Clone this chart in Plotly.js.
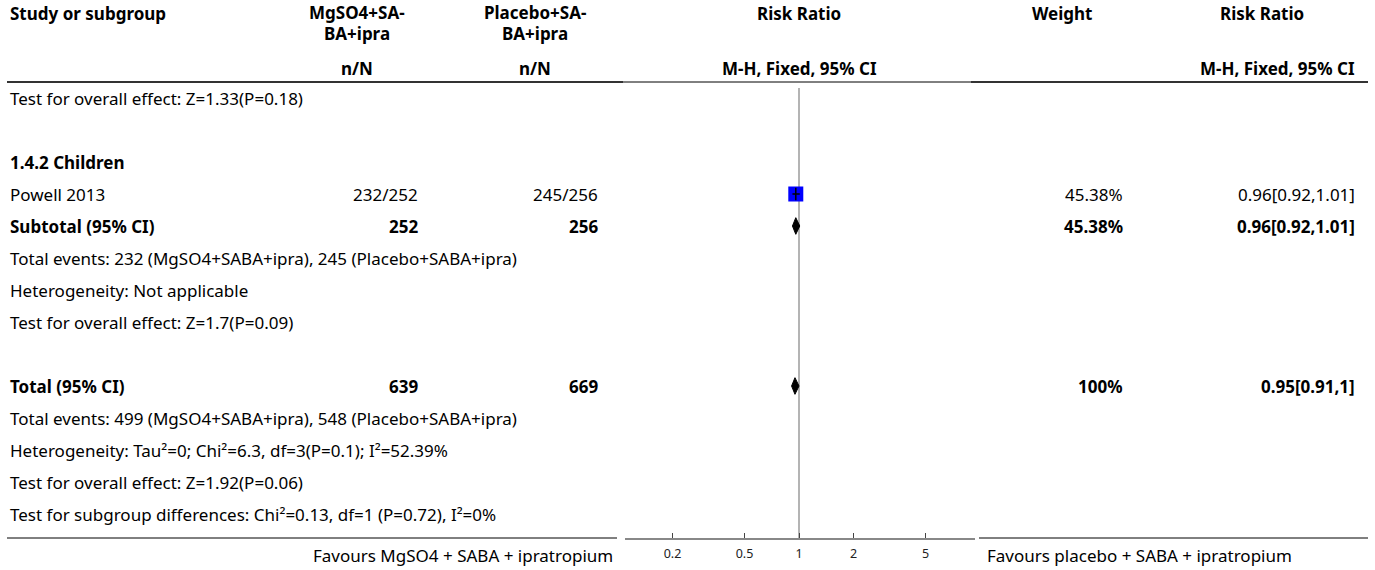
<!DOCTYPE html>
<html>
<head>
<meta charset="utf-8">
<script src="https://cdn.plot.ly/plotly-3.0.1.min.js"></script>
<style>
html,body{margin:0;padding:0;background:#fff;}
#chart{width:1375px;height:570px;}
</style>
</head>
<body>
<div id="chart"></div>
<script>
// ---------- data ----------
const studyNames = ["Powell 2013"];
const mgEvents = [232];
const mgTotals = [252];
const plEvents = [245];
const plTotals = [256];
const studyWeights = ["45.38%"];
const studyRR = [0.96];
const studyLo = [0.92];
const studyHi = [1.01];

const summaryLabels = ["Subtotal (95% CI)", "Total (95% CI)"];
const summaryMgN = [252, 639];
const summaryPlN = [256, 669];
const summaryWeights = ["45.38%", "100%"];
const summaryRR = [0.96, 0.95];
const summaryLo = [0.92, 0.91];
const summaryHi = [1.01, 1];
const summaryCIText = ["0.96[0.92,1.01]", "0.95[0.91,1]"];
const studyCIText = ["0.96[0.92,1.01]"];

const statLinesTop = ["Test for overall effect: Z=1.33(P=0.18)"];
const subgroupTitle = "1.4.2 Children";
const statLinesSub = [
  "Total events: 232 (MgSO4+SABA+ipra), 245 (Placebo+SABA+ipra)",
  "Heterogeneity: Not applicable",
  "Test for overall effect: Z=1.7(P=0.09)"
];
const statLinesTotal = [
  "Total events: 499 (MgSO4+SABA+ipra), 548 (Placebo+SABA+ipra)",
  "Heterogeneity: Tau\u00b2=0; Chi\u00b2=6.3, df=3(P=0.1); I\u00b2=52.39%",
  "Test for overall effect: Z=1.92(P=0.06)",
  "Test for subgroup differences: Chi\u00b2=0.13, df=1 (P=0.72), I\u00b2=0%"
];
const tickValues = [0.2, 0.5, 1, 2, 5];
const tickLabels = ["0.2", "0.5", "1", "2", "5"];
const favoursLeft = "Favours MgSO4 + SABA + ipratropium";
const favoursRight = "Favours placebo + SABA + ipratropium";

// ---------- layout helpers ----------
const W = 1375, H = 570;
const FONT = "'Noto Sans', 'Open Sans', sans-serif";
const FS = 17;
const px = v => v / W;
const COL = {left: 8, mgRight: 420, mgCenter: 357, plRight: 600, plCenter: 535,
             rrCenter: 799, wRight: 1125, wCenter: 1062, ciRight: 1357, ciCenter: 1262};

// row assignment
const rowTop = 0, rowSub = 2, rowStudy = 3, rowSubtotal = 4, rowSubStats = 5;
const rowTotal = 9, rowTotStats = 10;

const ann = [];
function txt(text, xpx, row, anchor, bold) {
  ann.push({
    text: bold ? "<b>" + text + "</b>" : text,
    xref: "paper", yref: "y", x: px(xpx), y: row,
    xanchor: anchor, yanchor: "middle", showarrow: false,
    font: {family: FONT, size: FS, color: "#000"}
  });
}
function hdr(text, xpx, ypx, anchor) {
  ann.push({text: "<b>" + text + "</b>", xref: "paper", yref: "paper",
    x: px(xpx), y: 1 - ypx / H, xanchor: anchor, yanchor: "middle", showarrow: false,
    font: {family: FONT, size: FS, color: "#000"}});
}

// headers
hdr("Study or subgroup", COL.left, 14, "left");
hdr("MgSO4+SA-", COL.mgCenter, 13, "center");
hdr("BA+ipra", COL.mgCenter, 34, "center");
hdr("Placebo+SA-", COL.plCenter, 13, "center");
hdr("BA+ipra", COL.plCenter, 34, "center");
hdr("n/N", COL.mgCenter, 68, "center");
hdr("n/N", COL.plCenter, 68, "center");
hdr("Risk Ratio", COL.rrCenter, 14, "center");
hdr("M-H, Fixed, 95% CI", COL.rrCenter, 68, "center");
hdr("Weight", COL.wCenter, 14, "center");
hdr("Risk Ratio", COL.ciCenter, 14, "center");
hdr("M-H, Fixed, 95% CI", COL.ciRight, 68, "right");

// body text
statLinesTop.forEach((s, i) => txt(s, COL.left, rowTop + i, "left", false));
txt(subgroupTitle, COL.left, rowSub, "left", true);
studyNames.forEach((s, i) => {
  const r = rowStudy + i;
  txt(s, COL.left, r, "left", false);
  txt(mgEvents[i] + "/" + mgTotals[i], COL.mgRight, r, "right", false);
  txt(plEvents[i] + "/" + plTotals[i], COL.plRight, r, "right", false);
  txt(studyWeights[i], COL.wRight, r, "right", false);
  txt(studyCIText[i], COL.ciRight, r, "right", false);
});
const sumRows = [rowSubtotal, rowTotal];
summaryLabels.forEach((s, i) => {
  const r = sumRows[i];
  txt(s, COL.left, r, "left", true);
  txt(String(summaryMgN[i]), COL.mgRight, r, "right", true);
  txt(String(summaryPlN[i]), COL.plRight, r, "right", true);
  txt(summaryWeights[i], COL.wRight, r, "right", true);
  txt(summaryCIText[i], COL.ciRight, r, "right", true);
});
statLinesSub.forEach((s, i) => txt(s, COL.left, rowSubStats + i, "left", false));
statLinesTotal.forEach((s, i) => txt(s, COL.left, rowTotStats + i, "left", false));

// favours labels
ann.push({text: favoursLeft, xref: "paper", yref: "paper", x: px(615), y: 1 - 555 / H,
  xanchor: "right", yanchor: "middle", showarrow: false, font: {family: FONT, size: FS, color: "#000"}});
ann.push({text: favoursRight, xref: "paper", yref: "paper", x: px(985), y: 1 - 555 / H,
  xanchor: "left", yanchor: "middle", showarrow: false, font: {family: FONT, size: FS, color: "#000"}});

// ---------- traces ----------
const traces = [];
// squares
traces.push({x: studyRR, y: studyNames.map((s, i) => rowStudy + i), mode: "markers",
  marker: {symbol: "square", size: 15, color: "#0000ff", line: {width: 0}},
  hoverinfo: "skip", showlegend: false});
// study CI lines
studyNames.forEach((s, i) => {
  const r = rowStudy + i;
  traces.push({x: [studyLo[i], studyHi[i]], y: [r, r], mode: "lines",
    line: {color: "#000", width: 1.5}, hoverinfo: "skip", showlegend: false});
});
traces.push({x: studyRR, y: studyNames.map((s, i) => rowStudy + i), mode: "markers",
  marker: {symbol: "line-ns", size: 9, line: {color: "#000", width: 1.5}},
  hoverinfo: "skip", showlegend: false});
// diamonds
summaryRR.forEach((v, i) => {
  const r = sumRows[i], h = 0.26;
  traces.push({x: [summaryLo[i], v, summaryHi[i], v, summaryLo[i]],
    y: [r, r - h, r, r + h, r], mode: "lines", fill: "toself",
    fillcolor: "#000", line: {color: "#000", width: 1}, hoverinfo: "skip", showlegend: false});
});

// ---------- shapes ----------
const shapes = [];
const X0 = 625, X1 = 975;
// reference line at 1
shapes.push({type: "line", xref: "x", yref: "paper", x0: 1, x1: 1,
  y0: 1 - 538 / H, y1: 1 - 88 / H, line: {color: "#b4b4b4", width: 2}, layer: "below"});
// header rule
shapes.push({type: "line", xref: "paper", yref: "paper", x0: px(7), x1: px(623), y0: 1 - 82 / H, y1: 1 - 82 / H, line: {color: "#333", width: 2}});
shapes.push({type: "line", xref: "paper", yref: "paper", x0: px(623), x1: px(971), y0: 1 - 82 / H, y1: 1 - 82 / H, line: {color: "#000", width: 1}});
shapes.push({type: "line", xref: "paper", yref: "paper", x0: px(971), x1: px(1368), y0: 1 - 82 / H, y1: 1 - 82 / H, line: {color: "#333", width: 2}});
// bottom rule
shapes.push({type: "line", xref: "paper", yref: "paper", x0: px(7), x1: px(617), y0: 1 - 538 / H, y1: 1 - 538 / H, line: {color: "#000", width: 1}});
shapes.push({type: "line", xref: "paper", yref: "paper", x0: px(979), x1: px(1368), y0: 1 - 538 / H, y1: 1 - 538 / H, line: {color: "#000", width: 1}});

// axis mapping: 1 at px 799, 181 px per decade
const ONE = 799, DEC = 181;
const layout = {
  width: W, height: H,
  margin: {l: 0, r: 0, t: 0, b: 0},
  paper_bgcolor: "#fff", plot_bgcolor: "rgba(0,0,0,0)",
  showlegend: false,
  xaxis: {
    type: "log", domain: [px(X0), px(X1)],
    range: [(X0 - ONE) / DEC, (X1 - ONE) / DEC],
    tickvals: tickValues, ticktext: tickLabels,
    ticks: "inside", ticklen: 5, tickcolor: "#444", tickwidth: 1,
    showline: true, linecolor: "#888", linewidth: 2,
    showgrid: false, zeroline: false,
    tickfont: {family: FONT, size: 12.5, color: "#222"},
    ticklabelstandoff: 3,
    fixedrange: true, anchor: "y"
  },
  yaxis: {
    domain: [1 - 538 / H, 1],
    range: [(538 - 98) / 32, (0 - 98) / 32],
    visible: false, showgrid: false, zeroline: false, fixedrange: true
  },
  annotations: ann,
  shapes: shapes
};

Plotly.newPlot("chart", traces, layout, {displayModeBar: false, staticPlot: true});
</script>
</body>
</html>
